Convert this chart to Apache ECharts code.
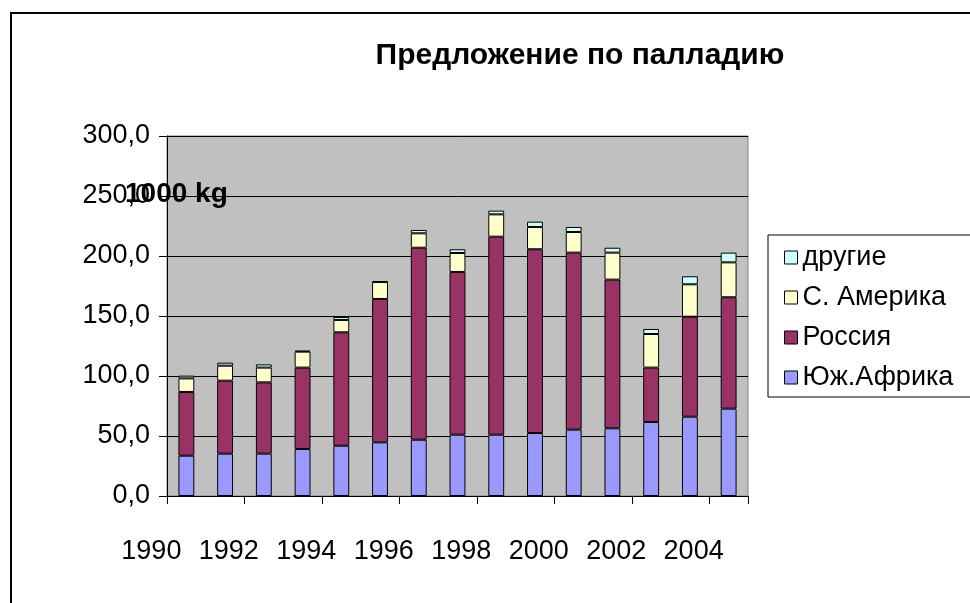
<!DOCTYPE html>
<html>
<head>
<meta charset="utf-8">
<script src="https://cdn.jsdelivr.net/npm/echarts@6/dist/echarts.min.js"></script>
<style>
  html, body { margin: 0; padding: 0; background: #fff; }
  #chart { width: 970px; height: 603px; }
</style>
</head>
<body>
<div id="chart"></div>
<script>
// Предложение по палладию, 1000 kg

const years = ['1990', '1991', '1992', '1993', '1994', '1995', '1996', '1997',
    '1998', '1999', '2000', '2001', '2002', '2003', '2004'];

const southAfrica = [33.6, 35.3, 35.3, 39.2, 41.9, 44.7, 46.9, 51.1, 51.1, 52.5, 55.3, 56.4, 61.7, 66.1, 72.8];
const russia = [53.1, 60.8, 59.4, 67.8, 94.5, 119.5, 160.0, 135.6, 165.0, 153.1, 147.5, 123.9, 45.3, 83.3, 92.8];
const northAmerica = [11.3, 12.5, 12.3, 13.3, 10.3, 14.1, 12.0, 15.8, 18.6, 18.6, 17.2, 22.5, 28.0, 27.0, 29.1];
const others = [2.3, 2.5, 2.7, 0.8, 2.5, 0.8, 2.8, 3.1, 3.1, 4.4, 4.2, 4.1, 4.2, 6.7, 8.1];

const yTicks = [0, 50, 100, 150, 200, 250, 300];

const font = 'Liberation Sans, Arial, sans-serif';

const chart = echarts.init(document.getElementById('chart'));

function barSeries(name, data, color) {
    return {
        name: name,
        type: 'bar',
        stack: 'total',
        data: data,
        barWidth: '41%',
        itemStyle: {
            color: color,
            borderColor: '#000',
            borderWidth: 1
        }
    };
}

const option = {
    backgroundColor: '#fff',
    animation: false,
    title: [{
        text: 'Предложение по палладию',
        left: 580,
        top: 41,
        padding: 0,
        textAlign: 'center',
        textStyle: { fontFamily: font, fontSize: 30, fontWeight: 'bold', color: '#000' }
    }, {
        text: '1000 kg',
        left: 125,
        top: 180,
        padding: 0,
        textStyle: { fontFamily: font, fontSize: 28, fontWeight: 'bold', color: '#000' }
    }],
    legend: {
        orient: 'vertical',
        left: 768,
        top: 235,
        padding: [9, 80, 6, 16],
        borderColor: '#000',
        borderWidth: 1,
        itemWidth: 13,
        itemHeight: 13,
        itemGap: 13,
        icon: 'rect',
        data: ['другие', 'С. Америка', 'Россия', 'Юж.Африка'],
        itemStyle: { borderColor: '#000', borderWidth: 1 },
        textStyle: { fontFamily: font, fontSize: 27, color: '#000', lineHeight: 27 }
    },
    grid: {
        left: 167,
        right: 222,
        top: 136,
        bottom: 107,
        show: true,
        backgroundColor: '#c0c0c0',
        borderColor: '#808080',
        borderWidth: 1
    },
    xAxis: {
        type: 'category',
        data: years,
        axisLine: { lineStyle: { color: '#000', width: 1 } },
        axisTick: { show: true, length: 8, lineStyle: { color: '#000' } },
        axisLabel: {
            interval: 1,
            margin: 42,
            padding: [0, 70, 0, 0],
            fontFamily: font,
            fontSize: 27,
            color: '#000'
        },
        splitLine: { show: false }
    },
    yAxis: {
        type: 'value',
        min: yTicks[0],
        max: yTicks[yTicks.length - 1],
        interval: 50,
        axisLine: { show: true, lineStyle: { color: '#000', width: 1 } },
        axisTick: { show: true, length: 8, lineStyle: { color: '#000' } },
        axisLabel: {
            margin: 17,
            fontFamily: font,
            fontSize: 27,
            color: '#000',
            formatter: v => v.toFixed(1).replace('.', ',')
        },
        splitLine: { show: true, lineStyle: { color: '#000', width: 1 } }
    },
    graphic: [{
        type: 'rect',
        shape: { x: 11, y: 13, width: 2000, height: 2000 },
        style: { fill: 'none', stroke: '#000', lineWidth: 2 },
        z: 100
    }],
    series: [
        barSeries('Юж.Африка', southAfrica, '#9999ff'),
        barSeries('Россия', russia, '#993366'),
        barSeries('С. Америка', northAmerica, '#ffffcc'),
        barSeries('другие', others, '#ccffff')
    ]
};

chart.setOption(option);
</script>
</body>
</html>
